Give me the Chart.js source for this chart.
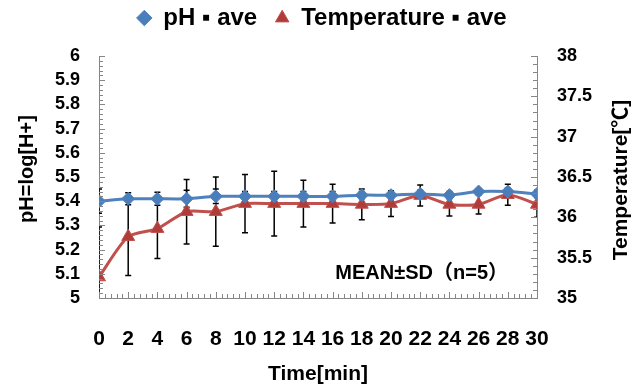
<!DOCTYPE html>
<html>
<head>
<meta charset="utf-8">
<script src="https://cdn.jsdelivr.net/npm/chart.js@4/dist/chart.umd.min.js"></script>
<style>
  html, body { margin: 0; padding: 0; background: #fff; }
  #wrap { width: 644px; height: 389px; }
</style>
</head>
<body>
<div id="wrap"><canvas id="chart"></canvas></div>
<script>
var times = [0, 2, 4, 6, 8, 10, 12, 14, 16, 18, 20, 22, 24, 26, 28, 30];
var phAve = [5.40, 5.41, 5.41, 5.41, 5.42, 5.42, 5.42, 5.42, 5.42, 5.425, 5.425, 5.43, 5.425, 5.44, 5.44, 5.43];
var phSd = [0.05, 0.025, 0.027, 0.035, 0.03, 0.02, 0.02, 0.02, 0.02, 0.015, 0.015, 0.015, 0.015, 0.01, 0.015, 0.015];
var tempAve = [35.26, 35.76, 35.86, 36.07, 36.07, 36.17, 36.17, 36.17, 36.17, 36.16, 36.17, 36.27, 36.16, 36.16, 36.28, 36.16];
var tempSd = [0.62, 0.48, 0.37, 0.40, 0.43, 0.36, 0.40, 0.29, 0.24, 0.19, 0.16, 0.13, 0.145, 0.12, 0.13, 0.16];
var phTicks = ['5', '5.1', '5.2', '5.3', '5.4', '5.5', '5.6', '5.7', '5.8', '5.9', '6'];
var tempTicks = ['35', '35.5', '36', '36.5', '37', '37.5', '38'];

var FONT = "'Liberation Sans', Arial, 'Noto Sans CJK JP', sans-serif";
var AXIS = '#868686';

function pts(ys) {
  return times.map(function(t, i) { return { x: t, y: ys[i] }; });
}

// legend sits higher than the default layout would put it
var legendFix = {
  id: 'legendFix',
  beforeUpdate: function(chart) {
    var lg = chart.legend;
    if (lg && !lg._fixed) {
      var fit = lg.fit;
      lg.fit = function() { fit.call(this); this.height = 68; };
      lg._fixed = true;
    }
  }
};

var errorBars = {
  id: 'errorBars',
  beforeDatasetsDraw: function(chart) {
    var ctx = chart.ctx, a = chart.chartArea, xs = chart.scales.x;
    var sets = [[chart.scales.y, phAve, phSd], [chart.scales.y1, tempAve, tempSd]];
    ctx.save();
    ctx.beginPath();
    ctx.rect(a.left, a.top, a.right - a.left, a.bottom - a.top);
    ctx.clip();
    ctx.strokeStyle = '#000';
    ctx.lineWidth = 1.5;
    sets.forEach(function(s) {
      times.forEach(function(t, i) {
        if (!s[2][i]) return;
        var x = xs.getPixelForValue(t);
        var y1 = s[0].getPixelForValue(s[1][i] + s[2][i]);
        var y2 = s[0].getPixelForValue(s[1][i] - s[2][i]);
        ctx.beginPath();
        ctx.moveTo(x, y1); ctx.lineTo(x, y2);
        ctx.moveTo(x - 3, y1); ctx.lineTo(x + 3, y1);
        ctx.moveTo(x - 3, y2); ctx.lineTo(x + 3, y2);
        ctx.stroke();
      });
    });
    ctx.restore();
  }
};

var extras = {
  id: 'extras',
  afterDraw: function(chart) {
    var ctx = chart.ctx, a = chart.chartArea;
    var xs = chart.scales.x, ys = chart.scales.y, yr = chart.scales.y1;
    ctx.save();
    ctx.strokeStyle = AXIS;
    ctx.lineWidth = 1;
    ctx.beginPath();
    var i, p, len;
    // x ticks, pointing up
    for (i = 0; i <= 75; i++) {
      p = Math.round(xs.getPixelForValue(i * 0.4)) + 0.5;
      len = i % 5 === 0 ? 6 : 4;
      ctx.moveTo(p, a.bottom); ctx.lineTo(p, a.bottom - len);
    }
    // left y ticks
    for (i = 0; i <= 50; i++) {
      p = Math.round(ys.getPixelForValue(5 + i * 0.02)) + 0.5;
      len = i % 5 === 0 ? 6 : 4;
      ctx.moveTo(a.left, p); ctx.lineTo(a.left + len, p);
    }
    // right y ticks
    for (i = 0; i <= 30; i++) {
      p = Math.round(yr.getPixelForValue(35 + i * 0.1)) + 0.5;
      len = i % 5 === 0 ? 6 : 4;
      ctx.moveTo(a.right, p); ctx.lineTo(a.right - len, p);
    }
    ctx.stroke();

    ctx.fillStyle = '#000';
    ctx.font = 'bold 20px ' + FONT;
    ctx.textBaseline = 'middle';
    ctx.textAlign = 'right';
    ctx.fillText('MEAN±SD（n=5）', a.right - 29, a.bottom - 25);

    // axis titles, both reading bottom to top
    ctx.textAlign = 'center';
    ctx.save();
    ctx.translate(27, 169);
    ctx.rotate(-Math.PI / 2);
    ctx.fillText('pH=log[H+]', 0, 0);
    ctx.restore();
    ctx.translate(621, 180);
    ctx.rotate(-Math.PI / 2);
    ctx.font = 'bold 21px ' + FONT;
    ctx.fillText('Temperature[℃]', 0, 0);
    ctx.restore();
  }
};

new Chart(document.getElementById('chart'), {
  type: 'line',
  data: {
    datasets: [
      {
        label: 'pH ▪ ave',
        data: pts(phAve),
        yAxisID: 'y',
        borderColor: '#4F81BD',
        backgroundColor: '#4A7EBB',
        borderWidth: 3,
        pointStyle: 'rectRot',
        pointRadius: 6.5,
        pointBorderWidth: 1,
        tension: 0.25
      },
      {
        label: 'Temperature ▪ ave',
        data: pts(tempAve),
        yAxisID: 'y1',
        borderColor: '#C0504D',
        backgroundColor: '#B03C3A',
        borderWidth: 3,
        pointStyle: 'triangle',
        pointRadius: 7.5,
        pointBorderWidth: 1,
        pointBorderColor: '#C0504D',
        tension: 0.25
      }
    ]
  },
  options: {
    responsive: true,
    maintainAspectRatio: false,
    animation: false,
    devicePixelRatio: 1,
    layout: { padding: { top: -12, left: 0, right: 0, bottom: 0 } },
    plugins: {
      tooltip: { enabled: false },
      legend: {
        position: 'top',
        labels: {
          usePointStyle: true,
          boxWidth: 14,
          boxHeight: 11,
          padding: 18,
          color: '#000',
          font: { family: FONT, size: 24, weight: 'bold' }
        }
      }
    },
    scales: {
      x: {
        type: 'linear',
        min: 0, max: 30,
        grid: { display: false, drawTicks: false },
        border: { display: true, color: AXIS, width: 1 },
        ticks: {
          stepSize: 2,
          autoSkip: false,
          maxRotation: 0,
          padding: 29,
          color: '#000',
          font: { family: FONT, size: 21, weight: 'bold' },
          callback: function(v, i) { return times[i]; }
        },
        title: {
          display: true,
          text: 'Time[min]',
          color: '#000',
          padding: { top: 0, bottom: 2 },
          font: { family: FONT, size: 21, weight: 'bold' }
        },
        afterFit: function(s) { s.height = 91; }
      },
      y: {
        position: 'left',
        min: 5, max: 6,
        grid: { display: false, drawTicks: false },
        border: { display: true, color: AXIS, width: 1 },
        ticks: {
          stepSize: 0.1,
          autoSkip: false,
          padding: 19,
          color: '#000',
          font: { family: FONT, size: 18, weight: 'bold' },
          callback: function(v, i) { return phTicks[i]; }
        },
        afterFit: function(s) { s.width = 99; }
      },
      y1: {
        position: 'right',
        min: 35, max: 38,
        grid: { display: false, drawTicks: false },
        border: { display: true, color: AXIS, width: 1 },
        ticks: {
          stepSize: 0.5,
          autoSkip: false,
          padding: 20,
          color: '#000',
          font: { family: FONT, size: 18, weight: 'bold' },
          callback: function(v, i) { return tempTicks[i]; }
        },
        afterFit: function(s) { s.width = 107; }
      }
    }
  },
  plugins: [legendFix, errorBars, extras]
});
</script>
</body>
</html>
